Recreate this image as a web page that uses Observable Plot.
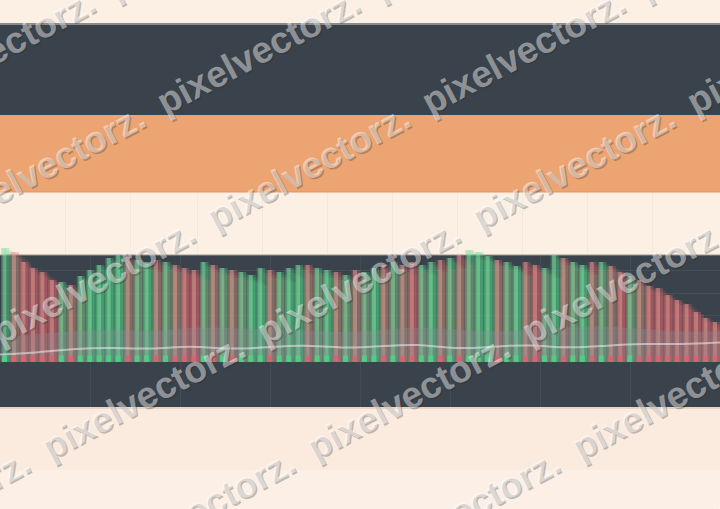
<!DOCTYPE html>
<html><head><meta charset="utf-8">
<script src="https://cdn.jsdelivr.net/npm/d3@7"></script>
<script src="https://cdn.jsdelivr.net/npm/@observablehq/plot@0.6"></script>
<style>
html,body{margin:0;padding:0;background:#fcefe4;}
#wrap{position:relative;width:720px;height:509px;overflow:hidden;}
#wrap svg{position:absolute;left:0;display:block;}
</style></head><body><div id="wrap"></div>
<script>
// ---- data ----
const barValues = [114,110,100,94,90,82,80,77,86,92,97,104,107,105,102,100,102,100,97,94,92,100,97,94,92,90,87,94,92,90,94,97,97,94,92,90,87,92,90,94,97,100,97,100,97,100,102,104,107,112,110,106,102,100,96,100,97,94,107,104,100,97,100,100,96,90,86,82,76,74,67,62,58,50,44,40];
const barDirections = ["up","down","down","down","down","down","up","down","up","up","up",
  "up","up","down","up","up","down","up",
  "down","down","down","up","down","up","down","up",
  "up","up","down","up","up","up","down","up","up",
  "down","up","down","up","up","down","up","down","down","up","up","down","up","down","up",
  "up","up","down","up","up","down",
  "down","up","up","down","up","up","down",
  "up","down","down","up","down","down","down","down","down","down","down","down","down"];
const curveIndex = [0,4,8,12,16,20,24,28,32,36,40,44,48,52,56,60,64,68,72,76];
const areaValues = [24,28,31,33,30,35,34,33,32,29,32,35,33,30,32,35,36,33,30,31];
const lineValues = [8,10,14,15,13,17,13,15,18,14,16,19,13,16,18,14,17,19,18,20];
const gridValues = [29,47,69,92];
const WATERMARK = "pixelvectorz.";

// ---- layout (not data) ----
const W = 720, H = 509;
const bandLayout = [
  {y1:0,   y2:23,  fill:"#fcefe4"},
  {y1:23,  y2:115, fill:"#3a434c"},
  {y1:115, y2:192, fill:"#eca472"},
  {y1:192, y2:255, fill:"#fcf0e5"},
  {y1:255, y2:407, fill:"#3a434c"},
  {y1:407, y2:470, fill:"#fbebdf"},
  {y1:470, y2:509, fill:"#fcf0e6"}
];
const edgeLayout = [
  {y:23.5, stroke:"#d9d2cb"},
  {y:191.5, stroke:"#e6955e"},
  {y:254.5, stroke:"#9c958e"},
  {y:407.5, stroke:"#d2bfae"}
];
const RED = "#d9626b", GREEN = "#4fd283";
const RED_L = "#f2a49c", GREEN_L = "#8fe8ac";
const bars = barValues.map((v,i)=>({i, v, c: barDirections[i]==="up"?GREEN:RED, l: barDirections[i]==="up"?GREEN_L:RED_L}));
const areaData = curveIndex.map((x,k)=>({x, v: areaValues[k]}));
const lineData = curveIndex.map((x,k)=>({x, v: lineValues[k]}));

const wrap = document.getElementById("wrap");

// background bands
const bg = Plot.plot({
  width: W, height: H, margin: 0,
  x: {domain:[0,W], axis:null}, y: {domain:[0,H], range:[0,H], axis:null},
  marks: [
    Plot.rect(bandLayout, {x1: ()=>0, x2: ()=>W, y1:"y1", y2:"y2", fill:"fill"}),
    Plot.ruleX([65,130,197,262,327,392,457,522,587,652], {y1: ()=>192, y2: ()=>254, stroke:"#000", strokeOpacity:0.03}),
    Plot.ruleY(edgeLayout, {y:"y", stroke:"stroke", strokeWidth:1})
  ]
});
bg.style.top = "0px";
wrap.appendChild(bg);

// bar chart
const copies = [1,2,3,4].map(k => Plot.rectY(bars, {
  x:"i", interval:1, y: d => d.v - 2.5*k, fill:"c", fillOpacity:0.15, dx: 3*k
}));
const chart = Plot.plot({
  width: W, height: 167, margin: 0, style:{background:"transparent", overflow:"visible"},
  x: {domain:[0,76], range:[0,W], axis:null},
  y: {domain:[0,120], range:[122,2], axis:null},
  marks: [
    Plot.ruleY(gridValues, {stroke:"#fff", strokeOpacity:0.06}),
    Plot.ruleX([9.5,19,28.5,38,47.5,57,66.5], {y1: ()=>-45, y2: ()=>107, stroke:"#fff", strokeOpacity:0.05}),
    ...copies,
    Plot.rectY(bars, {x:"i", interval:1, y:"v", fill:"c", fillOpacity:0.3}),
    Plot.rectY(bars, {x:"i", interval:1, y:"v", fill:"l", fillOpacity:0.45, insetLeft:2.5, insetRight:3}),
    Plot.areaY(areaData, {x:"x", y:"v", fill:"#8a9096", fillOpacity:0.3, curve:"basis"}),
    Plot.lineY(lineData, {x:"x", y:"v", stroke:"#eeeeee", strokeOpacity:0.55, strokeWidth:2, curve:"basis"}),
    Plot.rectY(bars, {x:"i", interval:1, y1: ()=>0, y2: ()=>6.5, fill:"c", fillOpacity:0.85, insetLeft:2, insetRight:2.5})
  ]
});
chart.style.top = "240px";
wrap.appendChild(chart);

// watermark overlay
const wm = [];
for (let r = -3; r <= 2; r++) {
  const y0 = 345 + 115*r, off = 50*r;
  for (let n = -1; n <= 3; n++) wm.push({x: off + 265*n, y: y0});
}
const wmCommon = {x:"x", y:"y", text: ()=>WATERMARK, rotate:-28, textAnchor:"start", lineAnchor:"bottom",
  fontSize:37, fontWeight:"bold", fontFamily:"Liberation Sans"};
const over = Plot.plot({
  width: W, height: H, margin: 0, style:{background:"transparent"},
  x: {domain:[0,W], axis:null}, y: {domain:[0,H], range:[0,H], axis:null},
  marks: [
    Plot.text(wm, {...wmCommon, fill:"#2a2a2a", fillOpacity:0.28, dx:1.5, dy:1.5}),
    Plot.text(wm, {...wmCommon, fill:"#ffffff", fillOpacity:0.45})
  ]
});
over.style.top = "0px";
over.style.pointerEvents = "none";
wrap.appendChild(over);
</script></body></html>
